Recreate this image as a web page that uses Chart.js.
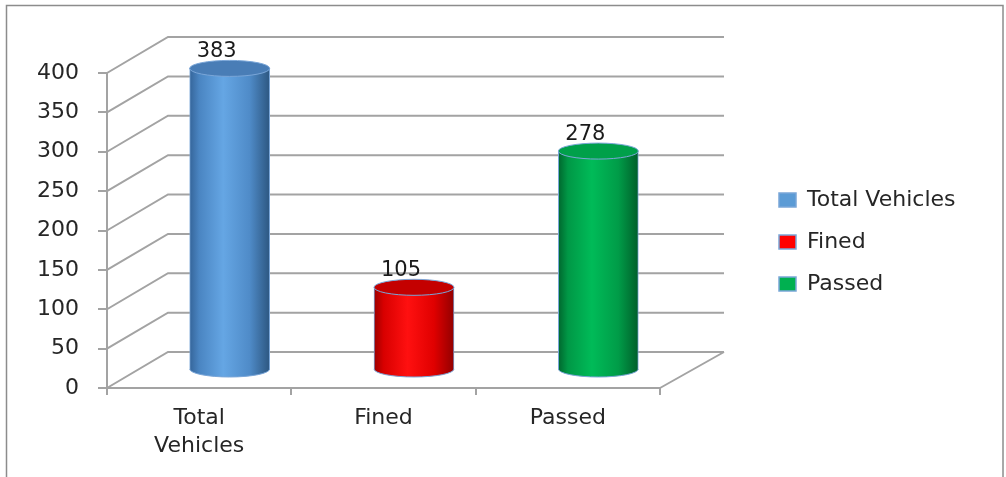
<!DOCTYPE html>
<html><head><meta charset="utf-8">
<script src="https://cdn.jsdelivr.net/npm/chart.js@4/dist/chart.umd.min.js"></script>
<style>html,body{margin:0;padding:0;background:#fff}canvas{display:block}</style>
</head><body>
<canvas id="c" width="1006" height="477" style="width:1006px;height:477px"></canvas>
<script>
// ---- data ----
const categories = ['Total Vehicles', 'Fined', 'Passed'];
const values = [383, 105, 278];
const yTicks = [0, 50, 100, 150, 200, 250, 300, 350, 400];
const legendLabels = ['Total Vehicles', 'Fined', 'Passed'];

// ---- style ----
const FONT = '"DejaVu Sans", sans-serif';
const TXT = '#262626';
const GRID = '#a3a3a3';
const EDGE = '#7aa6d8';
const DEPTH_X = 61, DEPTH_Y = -36, DEPTH_X_RIGHT = 64;
const BAR_W = 80, RY = 8;
const LEGEND_W = 247;
const shades = [
  {solid: '#5b9bd5', top: '#497db6', stops: [[0,'#35659a'],[0.12,'#4a85c2'],[0.42,'#65a6e4'],[0.75,'#4f8bc8'],[1,'#2d5781']]},
  {solid: '#ff0000', top: '#c40000', stops: [[0,'#9c0000'],[0.12,'#d80000'],[0.42,'#ff1010'],[0.75,'#e00000'],[1,'#920000']]},
  {solid: '#00b050', top: '#00a04a', stops: [[0,'#00672e'],[0.12,'#009846'],[0.42,'#00bb58'],[0.75,'#009c48'],[1,'#005f2a']]}
];

function cylGrad(ctx, cx, rx, i) {
  const g = ctx.createLinearGradient(cx - rx, 0, cx + rx, 0);
  shades[i].stops.forEach(([o, c]) => g.addColorStop(o, c));
  return g;
}

const scene = {
  id: 'scene',
  afterInit(chart) {
    const lg = chart.legend;
    if (lg) {
      const f = lg.fit;
      lg.fit = function () { f.call(this); this.width = LEGEND_W; };
    }
  },
  beforeDraw(chart) {
    const ctx = chart.ctx;
    ctx.save();
    ctx.fillStyle = '#fff';
    ctx.fillRect(0, 0, chart.width, chart.height);
    ctx.strokeStyle = '#8c8c8c';
    ctx.lineWidth = 1.5;
    ctx.strokeRect(6.5, 5.5, 996.5, 520);
    ctx.restore();
  },
  beforeDatasetsDraw(chart) {
    const {ctx, chartArea: a, scales: {y}} = chart;
    ctx.save();
    ctx.strokeStyle = GRID;
    ctx.lineWidth = 2;
    ctx.beginPath();
    y.ticks.forEach(t => {
      const yf = y.getPixelForValue(t.value);
      const yb = yf + DEPTH_Y;
      ctx.moveTo(a.left, yf);
      ctx.lineTo(a.left + DEPTH_X, yb);
      ctx.lineTo(a.right + DEPTH_X_RIGHT, yb);
    });
    const y0 = y.getPixelForValue(0);
    ctx.moveTo(a.right, y0);
    ctx.lineTo(a.right + DEPTH_X_RIGHT, y0 + DEPTH_Y);
    ctx.stroke();
    ctx.restore();
    ctx.save();
    ctx.translate(DEPTH_X / 2, DEPTH_Y / 2);
  },
  afterDatasetsDraw(chart) {
    const ctx = chart.ctx;
    const meta = chart.getDatasetMeta(0);
    meta.data.forEach((bar, i) => {
      const {x, y, base, width} = bar.getProps(['x', 'y', 'base', 'width'], true);
      const rx = width / 2;
      ctx.lineWidth = 1;
      ctx.strokeStyle = EDGE;
      ctx.beginPath();
      ctx.ellipse(x, base, rx, RY, 0, 0, Math.PI);
      ctx.fillStyle = cylGrad(ctx, x, rx, i);
      ctx.fill();
      ctx.stroke();
      ctx.beginPath();
      ctx.ellipse(x, y, rx, RY, 0, 0, Math.PI * 2);
      ctx.fillStyle = shades[i].top;
      ctx.fill();
      ctx.stroke();
      ctx.fillStyle = '#1a1a1a';
      ctx.font = '21px ' + FONT;
      ctx.textAlign = 'center';
      ctx.textBaseline = 'middle';
      ctx.fillText(String(values[i]), x - 13, y - 17);
    });
    ctx.restore();
  }
};

new Chart(document.getElementById('c'), {
  type: 'bar',
  data: {
    labels: categories,
    datasets: [{
      data: values,
      barThickness: BAR_W,
      borderColor: EDGE,
      borderWidth: 1,
      clip: false,
      backgroundColor: (c) => {
        const ch = c.chart, xs = ch.scales && ch.scales.x, i = c.dataIndex;
        if (i === undefined) return shades[0].solid;
        if (!ch.chartArea || !xs) return shades[i].solid;
        const cx = xs.getPixelForValue(i);
        if (!isFinite(cx)) return shades[i].solid;
        return cylGrad(ch.ctx, cx, BAR_W / 2, i);
      }
    }]
  },
  options: {
    responsive: false,
    devicePixelRatio: 1,
    animation: false,
    layout: {padding: {left: 0, top: 73, right: 0, bottom: 0}},
    plugins: {
      tooltip: {enabled: false},
      legend: {
        position: 'right',
        fullSize: false,
        title: {display: true, text: ' ', font: {size: 13, lineHeight: 1}, padding: {top: 10, bottom: 0}},
        labels: {
          color: TXT,
          font: {family: FONT, size: 22},
          boxWidth: 17,
          boxHeight: 14,
          padding: 20,
          generateLabels: () => legendLabels.map((t, i) => ({
            text: t, fillStyle: shades[i].solid, strokeStyle: EDGE, lineWidth: 1.5,
            hidden: false, index: i, datasetIndex: 0, fontColor: TXT
          }))
        }
      }
    },
    scales: {
      x: {
        offset: true,
        afterFit: s => { s.height = 89; },
        grid: {drawOnChartArea: false, color: GRID, lineWidth: 2, tickLength: 7, offset: true},
        border: {color: GRID, width: 2},
        ticks: {
          color: TXT, padding: 10,
          font: {family: FONT, size: 22, lineHeight: 1.24},
          callback: function (v) { return this.getLabelForValue(v).split(' '); }
        }
      },
      y: {
        min: 0, max: 400,
        afterFit: s => { s.width = 107; },
        afterBuildTicks: s => { s.ticks = yTicks.map(v => ({value: v})); },
        grid: {drawOnChartArea: false, color: GRID, lineWidth: 2, tickLength: 9},
        border: {color: GRID, width: 2},
        ticks: {color: TXT, padding: 19, font: {family: FONT, size: 22}}
      },
      y2: {
        position: 'right',
        display: true,
        afterFit: s => { s.width = 99; },
        grid: {display: false},
        border: {display: false},
        ticks: {display: false}
      }
    }
  },
  plugins: [scene]
});
</script>
</body></html>
